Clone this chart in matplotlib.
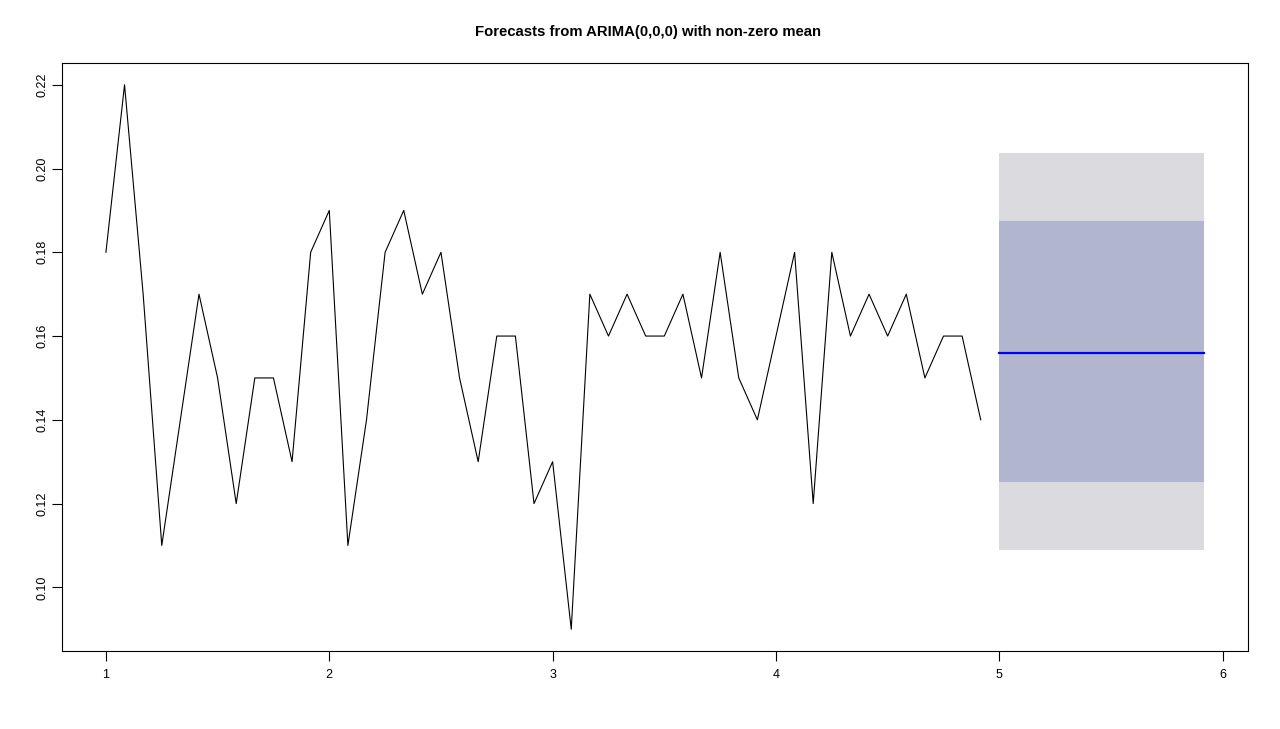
import matplotlib
matplotlib.use('Agg')
import matplotlib.pyplot as plt
import numpy as np

plt.rcParams['font.family'] = ['Liberation Sans', 'DejaVu Sans']

# monthly series (frequency 12) starting at time 1
start = 1.0
freq = 12
values = [0.18, 0.22, 0.17, 0.11, 0.14, 0.17, 0.15, 0.12, 0.15, 0.15, 0.13, 0.18,
          0.19, 0.11, 0.14, 0.18, 0.19, 0.17, 0.18, 0.15, 0.13, 0.16, 0.16, 0.12,
          0.13, 0.09, 0.17, 0.16, 0.17, 0.16, 0.16, 0.17, 0.15, 0.18, 0.15, 0.14,
          0.16, 0.18, 0.12, 0.18, 0.16, 0.17, 0.16, 0.17, 0.15, 0.16, 0.16, 0.14]

# 12-step forecast from ARIMA(0,0,0) with non-zero mean
fc_mean = [0.15604] * 12
lo80 = [0.1251] * 12
hi80 = [0.1875] * 12
lo95 = [0.1088] * 12
hi95 = [0.2038] * 12

x_hist = start + np.arange(len(values)) / freq
x_fc = start + (len(values) + np.arange(len(fc_mean))) / freq

fig = plt.figure(figsize=(12.8, 7.29), dpi=100)
ax = fig.add_axes([62 / 1280, 1 - 651 / 729, (1248 - 62) / 1280, (651 - 63) / 729])

ax.fill_between(x_fc, lo95, hi95, color='#dbdbdf', linewidth=0)
ax.fill_between(x_fc, lo80, hi80, color='#b1b5ce', linewidth=0)
ax.plot(x_fc, fc_mean, color='#0000ff', linewidth=1.6)
ax.plot(x_hist, values, color='black', linewidth=0.8)

# R style 4% axis extension
xmin, xmax = x_hist[0], x_fc[-1]
ymin = min(min(values), min(lo95))
ymax = max(max(values), max(hi95))
dx = (xmax - xmin) * 0.04
dy = (ymax - ymin) * 0.04
ax.set_xlim(xmin - dx, xmax + dx)
ax.set_ylim(ymin - dy, ymax + dy)

ax.set_xticks([1, 2, 3, 4, 5, 6])
ax.set_yticks(np.round(np.arange(0.10, 0.221, 0.02), 2))
ax.set_yticklabels([f'{v:.2f}' for v in np.arange(0.10, 0.221, 0.02)],
                   rotation=90, va='center')
ax.tick_params(direction='out', length=7, width=0.8, labelsize=9)
ax.tick_params(axis='x', pad=6)
ax.tick_params(axis='y', pad=2.5)
for s in ax.spines.values():
    s.set_linewidth(0.8)

fig.text(648 / 1280, 1 - 32 / 729, 'Forecasts from ARIMA(0,0,0) with non-zero mean',
         ha='center', va='center', fontsize=10.7, fontweight='bold')

fig.savefig('out.png', dpi=100)
